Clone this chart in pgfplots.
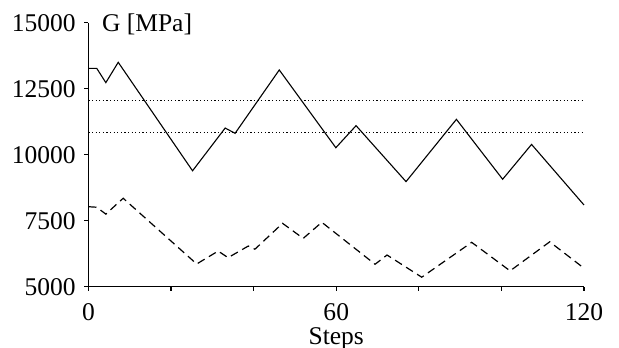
\documentclass[border=0pt]{standalone}
\usepackage{fontspec}
\setmainfont{Liberation Serif}
\usepackage{pgfplots}
\pgfplotsset{compat=1.18}
\begin{document}
\fontsize{12.8}{14}\selectfont
\begin{tikzpicture}
\begin{axis}[
 scale only axis, width=247.75bp, height=132bp,
 xmin=0,xmax=120,ymin=5000,ymax=15000,
 axis x line=bottom, axis y line=left,
 axis line style={-, line width=0.7bp},
 xtick={0,20,...,120}, xticklabels={0,,,60,,,120},
 ytick={5000,7500,10000,12500,15000},
 scaled ticks=false,
 tick align=outside, major tick length=2bp,
 tick style={line width=0.6bp, black},
 /pgf/number format/assume math mode=true,
 /pgf/number format/1000 sep={},
 ticklabel style={font=\fontsize{12.8}{14}\selectfont},
 xticklabel style={yshift=-2bp},
 xlabel={Steps},
 xlabel style={at={(axis description cs:0.5,0)}, anchor=base, yshift=-29bp, font=\fontsize{12.8}{14}\selectfont},
 clip=false,
]
\coordinate (o) at (rel axis cs:0,0);
\addplot[black, line width=0.55bp, dash pattern=on 0.6bp off 1.2bp] coordinates {(0,12050)(120,12050)};
\addplot[black, line width=0.55bp, dash pattern=on 0.6bp off 1.2bp] coordinates {(0,10850)(120,10850)};
\addplot[black, line width=0.55bp] coordinates {
(0,13270)(2,13270)(4.2,12730)(7.2,13500)(25.2,9390)(33.1,11010)(35.5,10810)(46.2,13210)(59.9,10265)(64.8,11100)(76.9,8980)(89.1,11340)(100.3,9070)(107.3,10390)(120,8095)};
\addplot[black, line width=0.6bp, dash pattern=on 4bp off 2.5bp] coordinates {
(0,8030)(2,8010)(4.2,7750)(8.4,8350)(26.2,5860)(31.4,6350)(33.8,6100)(38.7,6540)(40.3,6420)(47,7400)(52,6830)(56.5,7440)(69.4,5850)(72.3,6200)(80.7,5360)(92.8,6680)(102.1,5600)(111.7,6700)(120,5700)};
\node[anchor=base west, inner sep=0pt] at (rel axis cs:0.0266,0.966) {G [MPa]};
\end{axis}
\pgfresetboundingbox
\path[use as bounding box] (o) ++(-44.25bp,-30.65bp) rectangle ++(309.5bp,174bp);
\end{tikzpicture}
\end{document}
